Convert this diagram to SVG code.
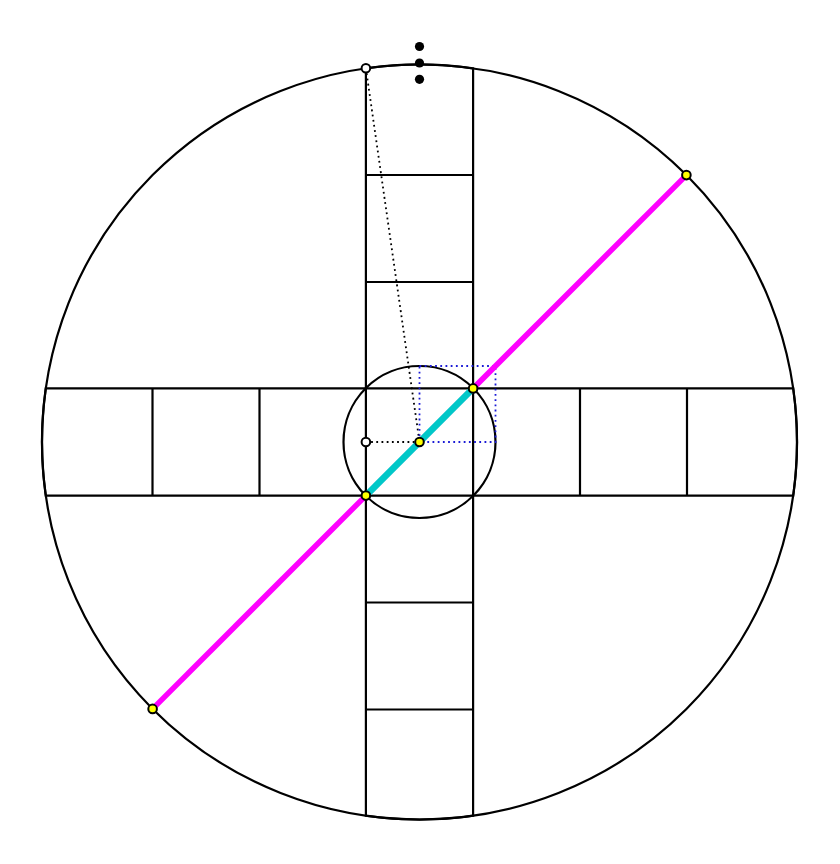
<svg xmlns="http://www.w3.org/2000/svg" width="840" height="864" viewBox="0 0 840 864">
<style>
.ln{fill:none;stroke:#000;stroke-width:2.2}
.dotk{fill:none;stroke:#000;stroke-width:1.8;stroke-dasharray:1.8 3.4}
.dotb{fill:none;stroke:#1a1ad6;stroke-width:1.8;stroke-dasharray:1.8 3.4}
.yel{fill:#ffff00;stroke:#000;stroke-width:2}
.wht{fill:#fff;stroke:#000;stroke-width:2}
.blk{fill:#000}
</style>
<g id="bigcircle"><circle class="ln" cx="419.5" cy="442" r="377.5"/></g>
<g id="hband">
<path class="ln" d="M45.8 388.4 H793.2 A377.5 377.5 0 0 1 793.2 495.6 H45.8 A377.5 377.5 0 0 1 45.8 388.4 Z"/>
<path class="ln" d="M152.5 388.4 V495.6 M259.5 388.4 V495.6 M580 388.4 V495.6 M687 388.4 V495.6"/>
</g>
<g id="vband">
<path class="ln" d="M365.9 68.3 V815.7 A377.5 377.5 0 0 0 473.1 815.7 V68.3 A377.5 377.5 0 0 0 365.9 68.3 Z"/>
<path class="ln" d="M365.9 175 H473.1 M365.9 282 H473.1 M365.9 602.5 H473.1 M365.9 709.5 H473.1"/>
</g>
<g id="smallcircle"><circle class="ln" cx="419.5" cy="442" r="76"/></g>
<g id="connectors">
<path class="dotk" d="M365.9 68.3 L419.5 442"/>
<path class="dotk" d="M365.9 442 H419.5"/>
<path class="dotb" d="M419.5 366 H495.5 V442 H419.5 Z"/>
<path d="M152.6 708.9 L686.4 175.1" stroke="#ff00ff" stroke-width="5.5" fill="none"/>
<path d="M365.9 495.6 L473.1 388.4" stroke="#00c8c8" stroke-width="6.5" fill="none"/>
</g>
<g id="points">
<circle class="blk" cx="419.5" cy="46.5" r="4.6"/>
<circle class="blk" cx="419.5" cy="63" r="4.6"/>
<circle class="blk" cx="419.5" cy="79.3" r="4.6"/>
<circle class="wht" cx="365.9" cy="68.3" r="4.3"/>
<circle class="wht" cx="365.9" cy="442" r="4.3"/>
<circle class="yel" cx="419.5" cy="442" r="4.3"/>
<circle class="yel" cx="365.9" cy="495.6" r="4.3"/>
<circle class="yel" cx="473.1" cy="388.4" r="4.3"/>
<circle class="yel" cx="686.4" cy="175.1" r="4.3"/>
<circle class="yel" cx="152.6" cy="708.9" r="4.3"/>
</g>
</svg>
